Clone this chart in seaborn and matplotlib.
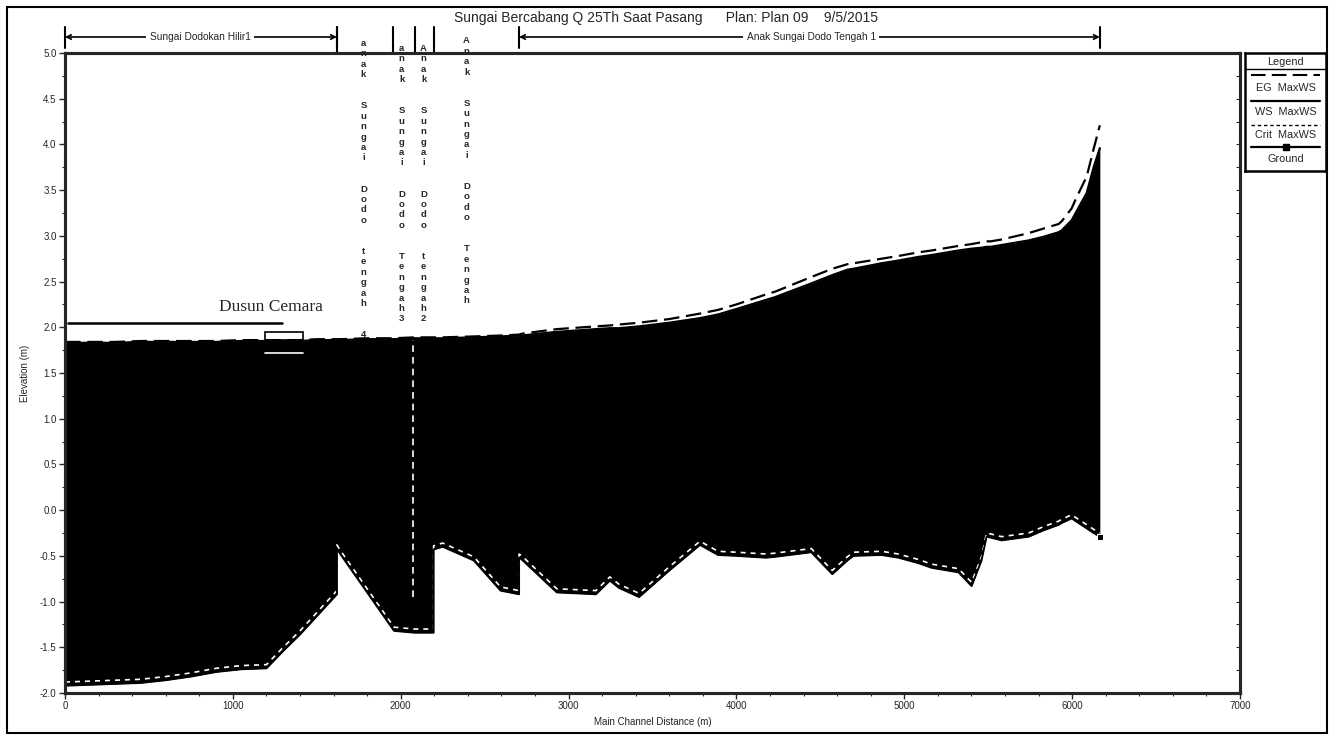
import numpy as np
import pandas as pd
import matplotlib
matplotlib.use("Agg")
import matplotlib.pyplot as plt
from matplotlib.patches import Rectangle
from matplotlib.ticker import MultipleLocator, FuncFormatter
import seaborn as sns

# ---------------- data ----------------
station = [0, 150, 300, 450, 600, 750, 900, 1050, 1200, 1300, 1400, 1500, 1620,
           1620, 1640, 1800, 1960, 2080, 2196,
           2196, 2250, 2435, 2595, 2705,
           2705, 2721, 2930, 3163, 3246, 3300, 3420, 3600, 3783, 3890, 4000, 4177,
           4231, 4446, 4571, 4661, 4697, 4864, 4965, 5085, 5162, 5323, 5401, 5460,
           5490, 5514, 5580, 5741, 5830, 5920, 5938, 5997, 6021, 6087, 6128, 6165]
ground = [-1.92, -1.91, -1.90, -1.89, -1.86, -1.82, -1.77, -1.74, -1.73, -1.54, -1.36, -1.16, -0.92,
          -0.42, -0.48, -0.90, -1.32, -1.34, -1.34,
          -0.43, -0.40, -0.55, -0.88, -0.92,
          -0.52, -0.54, -0.90, -0.92, -0.77, -0.85, -0.95, -0.66, -0.38, -0.49, -0.50, -0.52,
          -0.51, -0.46, -0.70, -0.55, -0.50, -0.49, -0.52, -0.58, -0.63, -0.68, -0.83, -0.55,
          -0.29, -0.30, -0.33, -0.29, -0.22, -0.16, -0.14, -0.09, -0.12, -0.20, -0.25, -0.29]
ws_max = [1.83, 1.83, 1.83, 1.84, 1.84, 1.84, 1.84, 1.85, 1.85, 1.85, 1.85, 1.86, 1.86,
          1.86, 1.86, 1.87, 1.87, 1.88, 1.88,
          1.88, 1.88, 1.89, 1.90, 1.91,
          1.91, 1.91, 1.95, 1.98, 1.99, 1.99, 2.01, 2.05, 2.10, 2.14, 2.20, 2.30,
          2.33, 2.48, 2.57, 2.63, 2.64, 2.70, 2.73, 2.77, 2.79, 2.84, 2.86, 2.87,
          2.88, 2.88, 2.90, 2.95, 2.99, 3.04, 3.06, 3.17, 3.25, 3.47, 3.75, 3.96]
eg_max = [1.84, 1.84, 1.84, 1.85, 1.85, 1.85, 1.85, 1.86, 1.86, 1.86, 1.86, 1.87, 1.87,
          1.87, 1.87, 1.88, 1.88, 1.89, 1.89,
          1.89, 1.89, 1.90, 1.91, 1.92,
          1.92, 1.93, 1.98, 2.01, 2.02, 2.03, 2.05, 2.09, 2.15, 2.19, 2.25, 2.36,
          2.39, 2.55, 2.64, 2.69, 2.70, 2.75, 2.78, 2.82, 2.84, 2.89, 2.91, 2.93,
          2.94, 2.94, 2.96, 3.03, 3.08, 3.13, 3.16, 3.30, 3.40, 3.65, 3.95, 4.21]
crit_max = [-1.88, -1.87, -1.86, -1.85, -1.82, -1.78, -1.73, -1.70, -1.69, -1.50, -1.32, -1.12, -0.88,
            -0.38, -0.44, -0.86, -1.28, -1.30, -1.30,
            -0.39, -0.36, -0.51, -0.84, -0.88,
            -0.48, -0.50, -0.86, -0.88, -0.73, -0.81, -0.91, -0.62, -0.34, -0.45, -0.46, -0.48,
            -0.47, -0.42, -0.66, -0.51, -0.46, -0.45, -0.48, -0.54, -0.59, -0.64, -0.79, -0.51,
            -0.25, -0.26, -0.29, -0.25, -0.18, -0.12, -0.10, -0.05, -0.08, -0.16, -0.21, -0.25]

x_ticks = [0, 1000, 2000, 3000, 4000, 5000, 6000, 7000]
y_ticks = [-2.0, -1.5, -1.0, -0.5, 0.0, 0.5, 1.0, 1.5, 2.0, 2.5, 3.0, 3.5, 4.0, 4.5, 5.0]

title_text = "Sungai Bercabang Q 25Th Saat Pasang      Plan: Plan 09    9/5/2015"
wide_reach_names = ["Sungai Dodokan Hilir1", "Anak Sungai Dodo Tengah 1"]
wide_reach_start = [0, 2705]
wide_reach_end = [1620, 6165]
wide_reach_label_x = [806, 4446]
narrow_reach_names = ["anak Sungai Dodo tengah 4", "anak Sungai Dodo Tengah3",
                      "Anak Sungai Dodo tengah2", "Anak Sungai Dodo Tengah"]
narrow_reach_x = [1778, 2005, 2136, 2393]
narrow_reach_top = [1.022, 1.014, 1.014, 1.026]
reach_bars = [1620, 1955, 2083, 2196]

village_name = "Dusun Cemara"
village_label_x, village_label_y = 1229, 2.22
village_line_x = [18, 1295]
village_line_y = 2.05
house_x = [1194, 1420]
house_y = [1.86, 1.95]
house_base_y = 1.72
junction_x = 2075
junction_y = [-0.95, 1.86]

legend_names = ["EG  MaxWS", "WS  MaxWS", "Crit  MaxWS", "Ground"]

# ---------------- style ----------------
sns.set_style("ticks")
plt.rcParams["font.family"] = ["Liberation Sans", "DejaVu Sans"]
plt.rcParams["axes.linewidth"] = 2.2

W, H = 1331, 738
fig = plt.figure(figsize=(W / 100, H / 100), dpi=100)
ax = fig.add_axes([65 / W, 1 - 693 / H, (1240 - 65) / W, (693 - 53) / H])

df = pd.DataFrame({"station": station, "ground": ground, "ws": ws_max,
                   "eg": eg_max, "crit": crit_max})

# water body between ground and water surface (black in the scan)
ax.fill_between(df["station"], df["ground"], df["ws"], color="black", lw=0, zorder=2)

sns.lineplot(data=df, x="station", y="ws", estimator=None, sort=False, ax=ax,
             color="black", lw=1.6, zorder=3)
sns.lineplot(data=df, x="station", y="eg", estimator=None, sort=False, ax=ax,
             color="black", lw=1.6, linestyle=(0, (7, 3)), zorder=4)
sns.lineplot(data=df, x="station", y="crit", estimator=None, sort=False, ax=ax,
             color="white", lw=1.2, linestyle=(0, (3, 3)), zorder=4)
sns.lineplot(data=df, x="station", y="ground", estimator=None, sort=False, ax=ax,
             color="black", lw=1.4, marker="s", markersize=5, markevery=[len(station) - 1],
             zorder=5)

ax.set_xlim(0, 7000)
ax.set_ylim(-2.0, 5.0)
ax.set_xticks(x_ticks)
ax.set_yticks(y_ticks)
ax.xaxis.set_minor_locator(MultipleLocator(200))
ax.yaxis.set_minor_locator(MultipleLocator(0.25))
ax.yaxis.set_major_formatter(FuncFormatter(lambda v, p: f"{v:.1f}"))
ax.tick_params(which="major", direction="out", length=4, width=1, labelsize=7, pad=2)
ax.tick_params(which="minor", direction="out", length=2, width=0.8)
ax.set_xlabel("Main Channel Distance (m)", fontsize=7)
ax.set_ylabel("Elevation (m)", fontsize=7)
ax.xaxis.set_label_coords(0.5, -0.037)
ax.yaxis.set_label_coords(-0.030, 0.5)
for s in ax.spines.values():
    s.set_visible(True)
    s.set_color("black")

ax2 = ax.twinx()
ax2.set_ylim(-2.0, 5.0)
ax2.yaxis.set_major_locator(MultipleLocator(0.25))
ax2.tick_params(axis="y", direction="in", length=3, width=0.8, labelright=False)
ax2.grid(False)

# village annotation
ax.plot(village_line_x, [village_line_y, village_line_y], color="black", lw=1.8, zorder=6)
ax.text(village_label_x, village_label_y, village_name, family=["Liberation Serif"],
        fontsize=12.5, ha="center", va="center", zorder=7)
ax.add_patch(Rectangle((house_x[0], house_y[0]), house_x[1] - house_x[0],
                       house_y[1] - house_y[0], fill=False, ec="black", lw=1.2, zorder=6))
ax.plot(house_x, [house_base_y, house_base_y], color="white", lw=1.2, zorder=6)
ax.plot([junction_x, junction_x], junction_y, color="white", lw=1.2,
        linestyle=(0, (4, 3)), zorder=6)

# reach markers above the plot
tr = ax.get_xaxis_transform()
for name, x0, x1, xm in zip(wide_reach_names, wide_reach_start, wide_reach_end, wide_reach_label_x):
    ax.annotate("", xy=(x0, 1.025), xytext=(x1, 1.025), xycoords=tr, textcoords=tr,
                arrowprops=dict(arrowstyle="<->", color="black", lw=1.2,
                                shrinkA=0, shrinkB=0, mutation_scale=8),
                annotation_clip=False)
    for xb in (x0, x1):
        ax.plot([xb, xb], [1.008, 1.04], transform=tr, color="black", lw=1.5, clip_on=False)
    ax.text(xm, 1.025, name, transform=tr, fontsize=7.3, ha="center", va="center",
            bbox=dict(fc="white", ec="none", pad=2.5), clip_on=False)
for xb in reach_bars:
    ax.plot([xb, xb], [1.0, 1.04], transform=tr, color="black", lw=1.5, clip_on=False)
for name, xc, yt in zip(narrow_reach_names, narrow_reach_x, narrow_reach_top):
    stacked = "\n\n\n".join("\n".join(word) for word in name.split(" "))
    ax.text(xc, yt, stacked, transform=tr, fontsize=6.8, fontweight="bold",
            ha="center", va="top", linespacing=1.2, clip_on=False, zorder=8,
            multialignment="center")

fig.text(0.5004, 1 - 18 / H, title_text, fontsize=10, ha="center", va="center")

# legend box
lax = fig.add_axes([1245 / W, 1 - 171 / H, 81 / W, 118 / H])
lax.set_xlim(0, 1)
lax.set_ylim(0, 1)
lax.set_xticks([])
lax.set_yticks([])
for s in lax.spines.values():
    s.set_visible(True)
    s.set_linewidth(1.8)
    s.set_color("black")
lfs = 7.8
lax.text(0.5, 0.925, "Legend", fontsize=lfs, ha="center", va="center")
lax.plot([0, 1], [0.862, 0.862], color="black", lw=1.0)
lx = [0.08, 0.93]
lax.plot(lx, [0.814, 0.814], color="black", lw=1.5, linestyle=(0, (7, 3)))
lax.text(0.5, 0.703, legend_names[0], fontsize=lfs, ha="center", va="center")
lax.plot(lx, [0.593, 0.593], color="black", lw=1.6)
lax.text(0.5, 0.500, legend_names[1], fontsize=lfs, ha="center", va="center")
lax.plot(lx, [0.390, 0.390], color="black", lw=1.0, linestyle=(0, (2.5, 2)))
lax.text(0.5, 0.305, legend_names[2], fontsize=lfs, ha="center", va="center")
lax.plot(lx, [0.203, 0.203], color="black", lw=1.6)
lax.plot([0.5], [0.203], marker="s", color="black", markersize=4)
lax.text(0.5, 0.102, legend_names[3], fontsize=lfs, ha="center", va="center")

# outer frame
fig.patches.append(Rectangle((7 / W, 1 - 733 / H), (1327 - 7) / W, (733 - 7) / H,
                             transform=fig.transFigure, fill=False, ec="black", lw=1.5))

fig.savefig("out.png", dpi=100)
